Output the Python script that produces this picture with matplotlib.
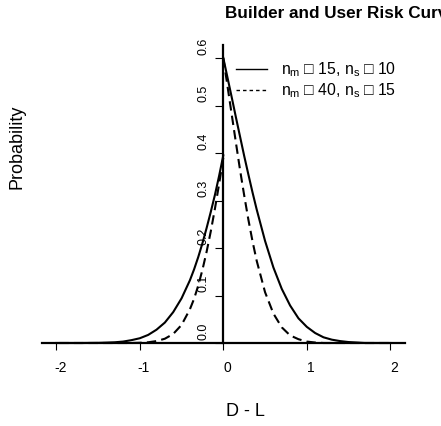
import matplotlib
matplotlib.use('Agg')
import matplotlib.pyplot as plt
from matplotlib.lines import Line2D
from matplotlib.transforms import ScaledTranslation

plt.rcParams['font.family'] = ['Liberation Sans', 'DejaVu Sans']

# values
x_right = [0, 0.05, 0.1, 0.15, 0.2, 0.25, 0.3, 0.35, 0.4, 0.5, 0.6, 0.7,
           0.8, 0.9, 1.0, 1.1, 1.2, 1.3, 1.4, 1.5, 1.7, 2.0]
solid_right = [0.600, 0.559, 0.518, 0.476, 0.435, 0.394, 0.355, 0.317, 0.281,
               0.215, 0.159, 0.114, 0.079, 0.052, 0.034, 0.021, 0.012, 0.007,
               0.004, 0.002, 0.000, 0.000]
dashed_right = [0.600, 0.541, 0.482, 0.423, 0.365, 0.311, 0.260, 0.214, 0.173,
                0.107, 0.062, 0.033, 0.016, 0.008, 0.003, 0.001, 0.000, 0.000,
                0.000, 0.000, 0.000, 0.000]

x_left = [0, -0.05, -0.1, -0.15, -0.2, -0.25, -0.3, -0.35, -0.4, -0.5, -0.6,
          -0.7, -0.8, -0.9, -1.0, -1.1, -1.2, -1.3, -1.4, -1.5, -1.7, -2.0]
solid_left = [0.395, 0.352, 0.312, 0.276, 0.242, 0.210, 0.181, 0.155, 0.132,
              0.094, 0.065, 0.043, 0.028, 0.017, 0.010, 0.006, 0.003, 0.0015,
              0.0008, 0.0003, 0.000, 0.000]
dashed_left = [0.390, 0.335, 0.283, 0.235, 0.192, 0.154, 0.121, 0.093, 0.071,
               0.038, 0.019, 0.009, 0.004, 0.0015, 0.0005, 0.000, 0.000, 0.000,
               0.000, 0.000, 0.000, 0.000]

labels = [r'$\mathregular{n_m}$ □ 15, $\mathregular{n_s}$ □ 10',
          r'$\mathregular{n_m}$ □ 40, $\mathregular{n_s}$ □ 15']
x_ticks = [-2, -1, 0, 1, 2]
y_ticks = [0.0, 0.1, 0.2, 0.3, 0.4, 0.5, 0.6]

W, H = 441, 426
fig = plt.figure(figsize=(W / 100, H / 100), dpi=100)
ax = fig.add_axes([39.6 / W, 1 - 366.75 / H, 367.4 / W, 332.5 / H])
ax.set_xlim(-2.2, 2.2)
ax.set_ylim(-0.05, 0.65)

dash = (0, (4.5, 2.5))
ax.plot(x_right, solid_right, color='black', lw=1.5)
ax.plot(x_left, solid_left, color='black', lw=1.5)
ax.plot(x_right, dashed_right, color='black', lw=1.5, linestyle=dash)
ax.plot(x_left, dashed_left, color='black', lw=1.5, linestyle=dash)

# axes crossing at the origin
for s in ['top', 'right']:
    ax.spines[s].set_visible(False)
ax.spines['left'].set_position(('data', 0))
ax.spines['bottom'].set_position(('data', 0))
ax.spines['left'].set_bounds(0, 0.627)
ax.spines['bottom'].set_bounds(-2.17, 2.18)
ax.spines['left'].set_linewidth(1.6)
ax.spines['bottom'].set_linewidth(1.6)

ax.set_xticks(x_ticks)
ax.set_xticklabels([str(t) for t in x_ticks])
ax.set_yticks(y_ticks)
ax.set_yticklabels(['%.1f' % t for t in y_ticks], rotation=90, va='center')
ax.tick_params(axis='x', direction='out', length=5, width=0.8, labelsize=10, pad=8)
ax.tick_params(axis='y', direction='out', length=6, width=0.8, labelsize=9, pad=4)

off_y = ScaledTranslation(0, 12 / 100, fig.dpi_scale_trans)
for lab in ax.get_yticklabels():
    lab.set_transform(lab.get_transform() + off_y)
off_x = ScaledTranslation(4 / 100, 0, fig.dpi_scale_trans)
for lab in ax.get_xticklabels():
    lab.set_transform(lab.get_transform() + off_x)

handles = [Line2D([], [], color='black', lw=1),
           Line2D([], [], color='black', lw=1, linestyle=(0, (2.5, 2.2)))]
ax.legend(handles, labels, loc='upper left', bbox_to_anchor=(236 / W, 1 - 60 / H),
          bbox_transform=fig.transFigure, frameon=False, fontsize=11.3,
          handlelength=2.0, handletextpad=0.85, labelspacing=0.15,
          borderpad=0, borderaxespad=0)

# title runs off the right edge, as in the reference
fig.text(225 / W, 1 - 18 / H, 'Builder and User Risk Curves', ha='left',
         va='baseline', fontsize=12.3, fontweight='bold')
fig.text(17 / W, 1 - 147 / H, 'Probability', rotation=90, ha='center',
         va='center', fontsize=13)
fig.text(245 / W, 1 - 411 / H, 'D - L', ha='center', va='center', fontsize=13)

fig.savefig('out.png', dpi=100)
